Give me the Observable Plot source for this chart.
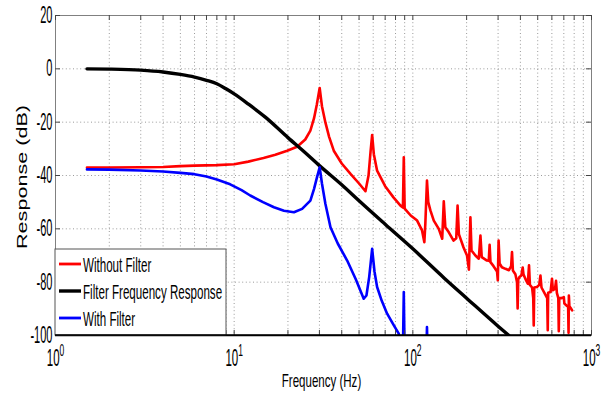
<!DOCTYPE html>
<html><head><meta charset="utf-8">
<script src="https://cdn.jsdelivr.net/npm/d3@7"></script>
<script src="https://cdn.jsdelivr.net/npm/@observablehq/plot@0.6"></script>
<style>
html,body{margin:0;padding:0;background:#fff;}
body{width:604px;height:396px;overflow:hidden;font-family:"Liberation Sans",Arial,sans-serif;}
</style>
</head><body><div id="chart"></div>
<script>
// ---- data ----
const seriesNames = ["Without Filter", "Filter Frequency Response", "With Filter"];
const seriesColors = ["#ff0000", "#000000", "#0000ff"];

const freqBlack = [1.5, 2, 3, 4, 5, 6, 7, 8, 9, 10, 12, 15, 20, 25, 30, 40, 50, 70, 100, 150, 200, 300, 345];
const dbBlack   = [0, -0.1, -0.5, -1.2, -2.1, -3.1, -4.3, -5.6, -7.5, -9.4, -13.2, -18.2, -25.8, -31.5, -36.3, -43.5, -49.5, -58.3, -67.5, -78.5, -86, -96.5, -100];

const freqRed = [1.5, 2, 3, 4, 5, 6, 8, 10, 12, 14.6, 17, 19.8, 22.5, 25, 26.7, 28, 29, 30.1, 31, 32.4, 34, 36.1, 40, 44.8, 50, 54.3, 56.5, 58, 59.2, 60.5, 63.1, 70, 77.9, 85.3, 88, 89, 90, 97.3, 105.7, 112.6, 116, 117.5, 120, 122, 125.4, 131, 139.7, 146, 149, 152, 159, 169, 175, 178, 181, 192, 201, 206, 210, 213, 224, 234, 239, 243, 260, 266, 269, 272, 283, 296, 299, 302, 306, 315, 330, 345, 355, 359, 363, 375, 383, 386, 389, 395, 405, 412, 416, 428, 440, 447, 452, 465, 472, 475, 478, 495, 510, 518, 525, 545, 565, 569, 572, 590, 601, 608, 625, 633, 640, 652, 656, 660, 680, 700, 705, 730, 740, 744, 747, 752, 770, 779];
const dbRed   = [-37.0, -37.0, -36.9, -36.8, -36.5, -36.3, -36.1, -35.8, -34.8, -33.4, -32.2, -30.7, -29.2, -26.5, -23.2, -18.5, -13.5, -7.2, -14, -20.1, -25.5, -30.7, -35.5, -39.4, -43, -45.9, -40, -31, -24.8, -32, -38.2, -44, -48.2, -51.3, -52, -33.2, -52.4, -55, -56.9, -60.6, -65, -58, -41.9, -50, -53.1, -56.9, -60, -63.7, -49.7, -59.4, -61.3, -64.4, -63.5, -51.3, -62, -66.9, -70, -75.3, -55.7, -68.1, -70, -71.2, -62.5, -70.6, -71.9, -72, -66, -72.5, -74, -76, -79.3, -64.4, -73, -74.4, -75, -75.5, -74, -68.7, -75.6, -77, -80, -89.9, -79, -78.1, -77.5, -74.5, -77, -79, -80.6, -73.7, -81, -82, -86, -96.2, -82, -81.8, -81, -77.5, -82, -84, -86, -98, -84, -83.7, -78.7, -83, -82.5, -79.5, -84, -86, -98.4, -86, -86, -85.6, -88, -89, -89, -99, -85, -89, -90, -90.6];

const freqBlue = [1.5, 2, 3, 4, 5, 6, 7, 8, 9.5, 11, 12.3, 14.5, 16.7, 19, 21.6, 24, 26.7, 28, 29, 30.1, 31, 32.4, 34.6, 38, 42.9, 48, 53.1, 55, 57, 59.2, 61, 63.1, 67, 71.8, 78, 83.4, 88, 89, 90, 100, 118, 120, 122, 140];
const dbBlue   = [-37.7, -37.8, -38.1, -38.5, -39.0, -39.5, -40.4, -41.5, -43.3, -45.5, -47.5, -50, -51.9, -53.2, -53.8, -52.5, -49.4, -45, -41, -36.9, -43, -50.6, -59.4, -65.5, -71.9, -79, -86.2, -85, -78, -67.5, -76, -81.8, -87, -91.8, -96, -99.3, -106, -83.7, -108, -115, -118, -96.8, -118, -120];

const xTicks = [1, 10, 100, 1000];
const xTickLabels = ["10^0", "10^1", "10^2", "10^3"];
const yTicks = [-100, -80, -60, -40, -20, 0, 20];
const yTickLabels = ["-100", "-80", "-60", "-40", "-20", "0", "20"];
const xLabel = "Frequency (Hz)";
const yLabel = "Response (dB)";

// ---- build tables ----
const toRows = (fs, vs) => fs.map((f, i) => ({f, v: vs[i]}));
const red = toRows(freqRed, dbRed);
const black = toRows(freqBlack, dbBlack);
const blue = toRows(freqBlue, dbBlue);
const xGrid = [];
for (const d of [1, 10, 100]) for (let k = 1; k <= 9; k++) xGrid.push(k * d);
xGrid.push(1000);

const W = 604, H = 396, ML = 55, MR = 13, MT = 15, MB = 61;
const PW = W - ML - MR, PH = H - MT - MB;
const gridStyle = {stroke: "#9a9a9a", strokeDasharray: "1,2.6", strokeWidth: 1};
const tickColor = "#444";

const plot = Plot.plot({
  width: W, height: H,
  marginLeft: ML, marginRight: MR, marginTop: MT, marginBottom: MB,
  style: {fontFamily: "Liberation Sans, Arial, sans-serif", background: "white", color: "black"},
  x: {type: "log", domain: [1, 1000], axis: null},
  y: {domain: [-100, 20], axis: null},
  marks: [
    Plot.ruleX(xGrid, {x: d => d, ...gridStyle}),
    Plot.ruleY(yTicks, {y: d => d, ...gridStyle}),
    Plot.line(red, {x: "f", y: "v", stroke: seriesColors[0], strokeWidth: 2.6, clip: true}),
    Plot.line(black, {x: "f", y: "v", stroke: seriesColors[1], strokeWidth: 3.4, clip: true, curve: "monotone-x"}),
    Plot.line(blue, {x: "f", y: "v", stroke: seriesColors[2], strokeWidth: 2.6, clip: true}),
    Plot.frame({stroke: "#808080"}),
    Plot.ruleX(xGrid, {x: d => d, stroke: tickColor, insetTop: PH - 5}),
    Plot.ruleX(xGrid, {x: d => d, stroke: tickColor, insetBottom: PH - 5}),
    Plot.ruleY(yTicks, {y: d => d, stroke: tickColor, insetRight: PW - 5}),
    Plot.ruleY(yTicks, {y: d => d, stroke: tickColor, insetLeft: PW - 5}),
    Plot.ruleY([-100], {y: d => d, stroke: "black", strokeWidth: 1.5}),
    Plot.text(yTicks, {y: d => d, text: (d, i) => yTickLabels[i], frameAnchor: "left", textAnchor: "end", lineAnchor: "middle", dx: -3, fontSize: 23, fill: "black", ariaDescription: "ylabels"}),
    Plot.text(xTicks, {x: d => d, text: (d, i) => xTickLabels[i], frameAnchor: "bottom", textAnchor: "middle", lineAnchor: "top", dy: 14, fontSize: 23, fill: "black", ariaDescription: "xlabels"})
  ]
});
document.getElementById("chart").appendChild(plot);

function squeeze(el, sx) {
  const tr = el.getAttribute("transform") || "";
  const m = tr.match(/translate\(([^)]*)\)/);
  if (m) {
    el.setAttribute("transform", tr.replace(m[0], m[0] + ` scale(${sx},1)`));
  } else {
    const x = parseFloat(el.getAttribute("x")) || 0;
    el.setAttribute("transform", `translate(${x},0) scale(${sx},1) translate(${-x},0)`);
  }
}

const svg = d3.select(plot.tagName.toLowerCase() === "svg" ? plot : plot.querySelector("svg"));
// superscripts on x tick labels
svg.selectAll('g[aria-description="xlabels"] text').each(function() {
  const parts = this.textContent.split("^");
  const t = d3.select(this);
  t.text(parts[0]);
  t.append("tspan").attr("dy", -10).attr("font-size", 17).text(parts[1]);
});
svg.selectAll('g[aria-description="xlabels"] text').each(function() { squeeze(this, 0.5); });
svg.selectAll('g[aria-description="ylabels"] text').each(function() { squeeze(this, 0.48); });

// axis titles
svg.append("text")
  .attr("transform", `translate(${ML + PW / 2 - 1.5},387) scale(0.62,1)`)
  .attr("text-anchor", "middle").attr("font-size", 18.6).attr("fill", "black")
  .text(xLabel);
svg.append("text")
  .attr("transform", `translate(26.7,177) scale(0.71,1) rotate(-90)`)
  .attr("text-anchor", "middle").attr("font-size", 21.6).attr("fill", "black")
  .text(yLabel);

// legend
const lg = svg.append("g");
lg.append("rect").attr("x", ML).attr("y", 249).attr("width", 171).attr("height", H - MB - 249)
  .attr("fill", "white").attr("stroke", "#555").attr("stroke-width", 1);
seriesNames.forEach((name, i) => {
  const y = 264 + i * 27;
  lg.append("line").attr("x1", 59).attr("x2", 81).attr("y1", y).attr("y2", y)
    .attr("stroke", seriesColors[i]).attr("stroke-width", i === 1 ? 3.4 : 2.8);
  lg.append("text").attr("transform", `translate(83,${y + 8}) scale(0.58,1)`)
    .attr("text-anchor", "start").attr("font-size", 20).attr("fill", "black").text(name);
});
// bottom axis line over legend
lg.append("line").attr("x1", ML).attr("x2", W - MR).attr("y1", H - MB).attr("y2", H - MB)
  .attr("stroke", "black").attr("stroke-width", 1.5);
</script></body></html>
